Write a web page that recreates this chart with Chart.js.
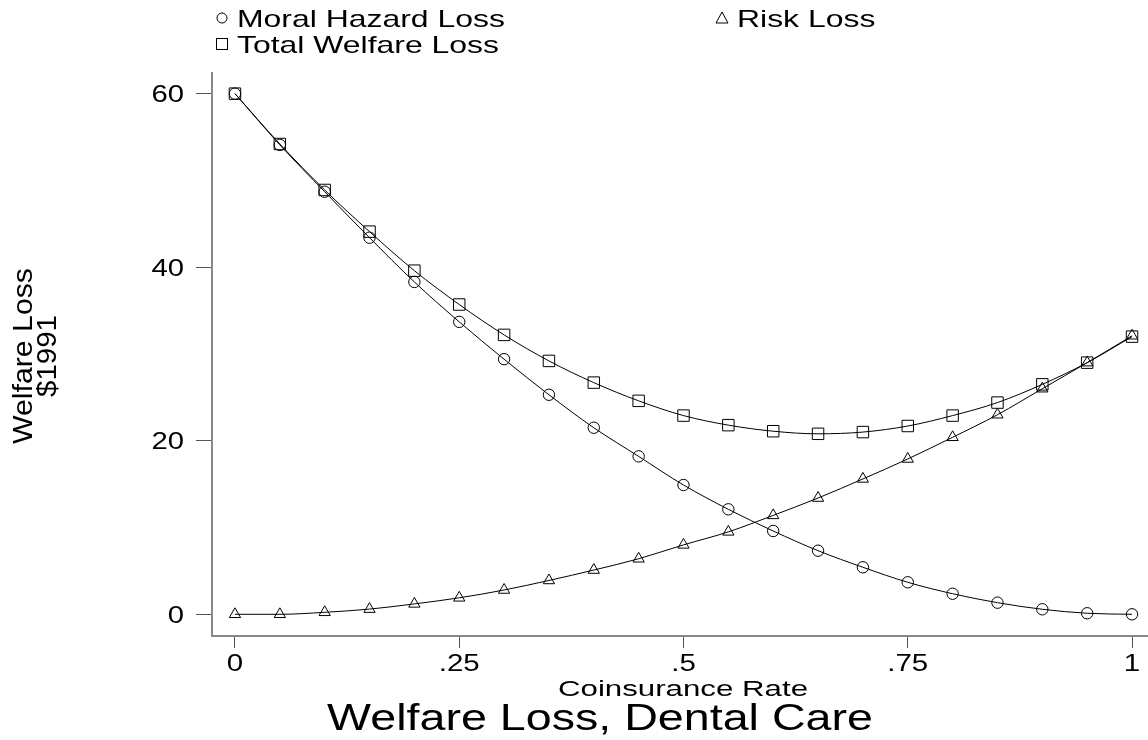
<!DOCTYPE html>
<html>
<head>
<meta charset="utf-8">
<script src="https://cdn.jsdelivr.net/npm/chart.js@4/dist/chart.umd.min.js"></script>
<style>
  html, body { margin: 0; padding: 0; background: #fff; }
  #wrap { width: 1148px; height: 740px; }
</style>
</head>
<body>
<div id="wrap"><canvas id="chartCanvas" width="1148" height="740"></canvas></div>
<script>
// coinsurance rate (x) and the three loss curves
const rates = [0, .05, .1, .15, .2, .25, .3, .35, .4, .45, .5, .55, .6, .65, .7, .75, .8, .85, .9, .95, 1];
const moralHazard = [60, 54.1, 48.7, 43.4, 38.3, 33.7, 29.4, 25.3, 21.5, 18.2, 14.9, 12.1, 9.6, 7.33, 5.42, 3.69, 2.37, 1.34, 0.58, 0.12, 0];
const riskLoss = [0, 0, 0.23, 0.6, 1.2, 1.9, 2.8, 3.9, 5.1, 6.4, 8.0, 9.5, 11.4, 13.4, 15.6, 17.9, 20.4, 23.0, 26.0, 29.0, 32.1];
const totalLoss = [60, 54.2, 48.9, 44.1, 39.6, 35.7, 32.2, 29.2, 26.7, 24.6, 22.9, 21.8, 21.1, 20.8, 21.0, 21.7, 22.9, 24.4, 26.5, 29.0, 32.0];

const xTicks = [0, .25, .5, .75, 1];
const xTickLabels = ["0", ".25", ".5", ".75", "1"];
const yTicks = [0, 20, 40, 60];
const yTickLabels = ["0", "20", "40", "60"];

const FONT = '"Liberation Sans", Arial, Helvetica, sans-serif';

// text is a bit wider than normal in the original, so stretch it
function stretchText(ctx, txt, x, y, size, sx, align, rot) {
  ctx.save();
  ctx.translate(x, y);
  if (rot) ctx.rotate(rot);
  ctx.scale(sx, 1);
  ctx.font = size + "px " + FONT;
  ctx.textAlign = align;
  ctx.textBaseline = "alphabetic";
  ctx.fillStyle = "#000";
  ctx.fillText(txt, 0, 0);
  ctx.restore();
}

function toPoints(ys) {
  return ys.map((y, i) => ({ x: rates[i], y }));
}

const textPlugin = {
  id: "stataText",
  afterDraw(chart) {
    const ctx = chart.ctx;
    const xs = chart.scales.x, ys = chart.scales.y;

    // tick labels
    xTicks.forEach((v, i) => {
      stretchText(ctx, xTickLabels[i], xs.getPixelForValue(v), 671, 23, 1.28, "center");
    });
    yTicks.forEach((v, i) => {
      stretchText(ctx, yTickLabels[i], 184, ys.getPixelForValue(v) + 8.5, 24, 1.22, "right");
    });

    // axis titles
    stretchText(ctx, "Coinsurance Rate", 683, 696, 22, 1.42, "center");
    stretchText(ctx, "Welfare Loss", 32, 356, 28, 1.08, "center", -Math.PI / 2);
    stretchText(ctx, "$1991", 56, 356, 28, 1.05, "center", -Math.PI / 2);

    // title
    stretchText(ctx, "Welfare Loss, Dental Care", 600, 730, 37, 1.26, "center");

    // legend
    ctx.save();
    ctx.strokeStyle = "#000";
    ctx.lineWidth = 1;
    ctx.beginPath();
    ctx.arc(222, 18, 5, 0, Math.PI * 2);
    ctx.stroke();
    ctx.strokeRect(216.5, 38.5, 11, 11);
    ctx.beginPath();
    ctx.moveTo(722, 12);
    ctx.lineTo(728, 23);
    ctx.lineTo(716, 23);
    ctx.closePath();
    ctx.stroke();
    ctx.restore();
    stretchText(ctx, chart.data.datasets[0].label, 237, 26.5, 24, 1.33, "left");
    stretchText(ctx, chart.data.datasets[1].label, 737, 26.5, 24, 1.33, "left");
    stretchText(ctx, chart.data.datasets[2].label, 237, 52.5, 24, 1.33, "left");
  }
};

const common = {
  borderColor: "#000",
  borderWidth: 1,
  pointBorderColor: "#000",
  pointBackgroundColor: "rgba(0,0,0,0)",
  pointBorderWidth: 1,
  cubicInterpolationMode: "monotone",
  fill: false
};

new Chart(document.getElementById("chartCanvas").getContext("2d"), {
  type: "line",
  data: {
    datasets: [
      { ...common, label: "Moral Hazard Loss", data: toPoints(moralHazard), pointStyle: "circle", pointRadius: 5.7 },
      { ...common, label: "Risk Loss", data: toPoints(riskLoss), pointStyle: "triangle", pointRadius: 6.5 },
      { ...common, label: "Total Welfare Loss", data: toPoints(totalLoss), pointStyle: "rect", pointRadius: 8.1 }
    ]
  },
  options: {
    responsive: false,
    animation: false,
    devicePixelRatio: 1,
    layout: { autoPadding: false, padding: { left: 196, right: 0, top: 73, bottom: 92 } },
    plugins: {
      legend: { display: false },
      tooltip: { enabled: false },
      title: { display: false }
    },
    scales: {
      x: {
        type: "linear",
        min: -0.0256,
        max: 1.0178,
        afterBuildTicks: s => { s.ticks = xTicks.map(v => ({ value: v })); },
        ticks: { display: false },
        grid: { drawOnChartArea: false, drawTicks: true, tickLength: 12, color: "#555", lineWidth: 1 },
        border: { display: true, color: "#888", width: 2 }
      },
      y: {
        type: "linear",
        min: -2.5,
        max: 62.38,
        afterBuildTicks: s => { s.ticks = yTicks.map(v => ({ value: v })); },
        ticks: { display: false },
        grid: { drawOnChartArea: false, drawTicks: true, tickLength: 16, color: "#555", lineWidth: 1 },
        border: { display: true, color: "#888", width: 2 }
      }
    }
  },
  plugins: [textPlugin]
});
</script>
</body>
</html>
